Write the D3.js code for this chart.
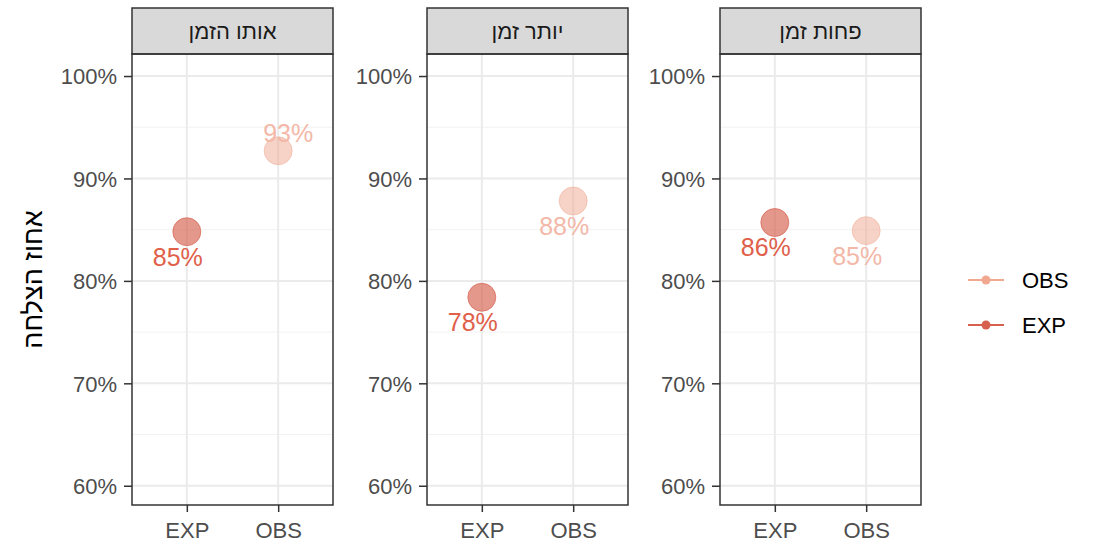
<!DOCTYPE html>
<html>
<head>
<meta charset="utf-8">
<script src="https://cdn.jsdelivr.net/npm/d3@7"></script>
<style>
  body { margin: 0; background: #fff; }
  text { font-family: "Liberation Sans", Arial, sans-serif; }
</style>
</head>
<body>
<svg width="1099" height="542"></svg>
<script>
// data
var panels = ["אותו הזמן", "יותר זמן", "פחות זמן"];
var groups = ["EXP", "OBS"];
var expValues = [0.848, 0.784, 0.857];
var obsValues = [0.927, 0.878, 0.849];
var yTicks = [0.6, 0.7, 0.8, 0.9, 1.0];
var legendItems = ["OBS", "EXP"];

var colors = { EXP: "#d6604d", OBS: "#f0a890" };
var fillAlpha = { EXP: 0.65, OBS: 0.5 };
var textColor = { EXP: "#e0604a", OBS: "#f3b8a8" };

var svg = d3.select("svg");

var panelX = [132, 427, 720],
    panelW = 201,
    stripTop = 8,
    plotTop = 54,
    plotBottom = 505;

var y = d3.scaleLinear().domain([0.5812, 1.0215]).range([plotBottom, plotTop]);
var minor = [0.65, 0.75, 0.85, 0.95];

panels.forEach(function(name, i) {
  var g = svg.append("g").attr("transform", "translate(" + panelX[i] + ",0)");
  var x = d3.scalePoint().domain(groups).range([0, panelW]).padding(0.6);

  // grid
  g.append("rect").attr("x", 0).attr("y", plotTop).attr("width", panelW).attr("height", plotBottom - plotTop).attr("fill", "#fff");
  g.selectAll(".minor").data(minor).enter().append("line")
    .attr("x1", 0).attr("x2", panelW).attr("y1", d => y(d)).attr("y2", d => y(d))
    .attr("stroke", "#f2f2f2").attr("stroke-width", 1);
  g.selectAll(".major").data(yTicks).enter().append("line")
    .attr("x1", 0).attr("x2", panelW).attr("y1", d => y(d)).attr("y2", d => y(d))
    .attr("stroke", "#ebebeb").attr("stroke-width", 2);
  g.selectAll(".vgrid").data(groups).enter().append("line")
    .attr("x1", d => x(d)).attr("x2", d => x(d)).attr("y1", plotTop).attr("y2", plotBottom)
    .attr("stroke", "#ebebeb").attr("stroke-width", 2);

  // strip
  g.append("rect").attr("x", 0).attr("y", stripTop).attr("width", panelW).attr("height", plotTop - stripTop)
    .attr("fill", "#d9d9d9").attr("stroke", "#333").attr("stroke-width", 1.5);
  g.append("text").attr("x", panelW / 2).attr("y", (stripTop + plotTop) / 2 + 8)
    .attr("text-anchor", "middle").attr("font-size", 22).attr("fill", "#1a1a1a").text(name);

  // points
  var pts = [
    { grp: "EXP", v: expValues[i] },
    { grp: "OBS", v: obsValues[i] }
  ];
  g.selectAll(".pt").data(pts).enter().append("circle")
    .attr("cx", d => x(d.grp)).attr("cy", d => y(d.v)).attr("r", 14)
    .attr("fill", d => colors[d.grp]).attr("fill-opacity", d => fillAlpha[d.grp])
    .attr("stroke", d => colors[d.grp]).attr("stroke-opacity", d => fillAlpha[d.grp]);

  // labels: below-left, or above-right near the top
  g.selectAll(".lbl").data(pts).enter().append("text")
    .attr("x", d => x(d.grp) + (d.v > 0.9 ? 10 : -9))
    .attr("y", d => y(d.v) + (d.v > 0.9 ? -9 : 34))
    .attr("text-anchor", "middle").attr("font-size", 25)
    .attr("fill", d => textColor[d.grp])
    .text(d => Math.round(d.v * 100) + "%");

  // border
  g.append("rect").attr("x", 0).attr("y", plotTop).attr("width", panelW).attr("height", plotBottom - plotTop)
    .attr("fill", "none").attr("stroke", "#333").attr("stroke-width", 1.5);

  // axes
  var yAxis = d3.axisLeft(y).tickValues(yTicks).tickSize(8).tickPadding(7)
    .tickFormat(d => Math.round(d * 100) + "%");
  var ya = g.append("g").call(yAxis);
  ya.select(".domain").remove();
  ya.selectAll("line").attr("stroke", "#333").attr("stroke-width", 1.5);
  ya.selectAll("text").attr("font-size", 22).attr("fill", "#4d4d4d").attr("dy", "0.36em")
    .style("font-family", "Liberation Sans, Arial, sans-serif");

  var xAxis = d3.axisBottom(x).tickSize(7).tickPadding(10);
  var xa = g.append("g").attr("transform", "translate(0," + plotBottom + ")").call(xAxis);
  xa.select(".domain").remove();
  xa.selectAll("line").attr("stroke", "#333").attr("stroke-width", 1.5);
  xa.selectAll("text").attr("font-size", 22).attr("fill", "#4d4d4d").attr("dy", "0.71em")
    .style("font-family", "Liberation Sans, Arial, sans-serif");
});

// y title
svg.append("text")
  .attr("transform", "translate(42," + ((plotTop + plotBottom) / 2) + ") rotate(-90)")
  .attr("text-anchor", "middle").attr("font-size", 27).attr("fill", "#000")
  .text("אחוז הצלחה");

// legend
var leg = svg.append("g").attr("transform", "translate(968,0)");
var legY = d3.scalePoint().domain(legendItems).range([280, 325]);
legendItems.forEach(function(k) {
  leg.append("line").attr("x1", 0).attr("x2", 36).attr("y1", legY(k)).attr("y2", legY(k))
    .attr("stroke", colors[k]).attr("stroke-width", 2);
  leg.append("circle").attr("cx", 18).attr("cy", legY(k)).attr("r", 4.5).attr("fill", colors[k]);
  leg.append("text").attr("x", 54).attr("y", legY(k) + 8).attr("font-size", 22).attr("fill", "#000").text(k);
});
</script>
</body>
</html>
